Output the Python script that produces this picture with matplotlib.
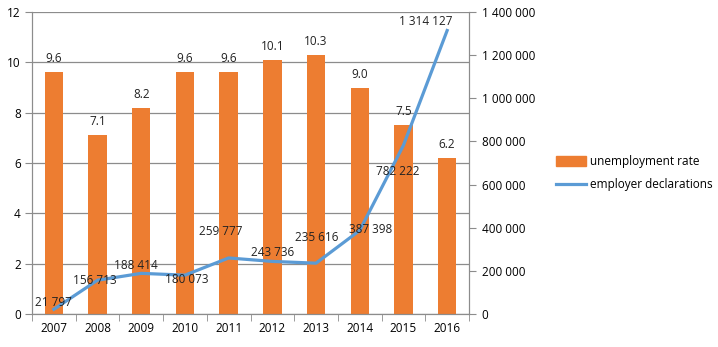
import matplotlib.pyplot as plt
from matplotlib.ticker import FuncFormatter
from matplotlib.patches import Patch
from matplotlib.lines import Line2D

years = ["2007", "2008", "2009", "2010", "2011", "2012", "2013", "2014", "2015", "2016"]
rate = [9.6, 7.1, 8.2, 9.6, 9.6, 10.1, 10.3, 9.0, 7.5, 6.2]
decl = [21797, 156713, 188414, 180073, 259777, 243736, 235616, 387398, 782222, 1314127]

# label offsets for the line labels (pixels)
decl_off = [(0, 7), (-3, 0), (-5, 8), (2, -4), (-8, 26), (0, 9), (1, 26), (11, 1), (-6, -26), (-21, 9)]

plt.rcParams['font.family'] = ['Open Sans', 'DejaVu Sans']
plt.rcParams['font.size'] = 8.5
orange = "#ED7D31"
blue = "#5B9BD5"
grid = "#8C8C8C"

fig = plt.figure(figsize=(7.18, 3.47), dpi=100)
ax = fig.add_axes([32/718, 1-314/347, (469-32)/718, (314-12)/347])
x = list(range(len(years)))
ax.bar(x, rate, width=0.42, color=orange, zorder=2)
for i, v in enumerate(rate):
    ax.annotate(f"{v:.1f}", (i, v), xytext=(0, 7), textcoords="offset pixels",
                ha="center", va="bottom", color="#222222")
ax.set_xlim(-0.5, 9.5)
ax.set_ylim(0, 12)
ax.set_yticks(range(0, 13, 2))
ax.yaxis.grid(True, color=grid, linewidth=0.9, zorder=0)
ax.set_axisbelow(True)
ax.set_xticks(x)
ax.set_xticklabels(years)
ax.set_xticks([i - 0.5 for i in range(11)], minor=True)
ax.tick_params(axis="x", which="major", length=0, pad=6)
ax.tick_params(axis="x", which="minor", length=5, color=grid)
ax.tick_params(axis="y", length=5, color=grid, pad=3)
for s in ["left", "right", "bottom"]:
    ax.spines[s].set_color(grid)
ax.spines["top"].set_visible(False)

ax2 = ax.twinx()
ax2.plot(x, decl, color=blue, linewidth=2.3, zorder=3)
for i, v in enumerate(decl):
    ax2.annotate(f"{v:,}".replace(",", " "), (i, v), xytext=decl_off[i],
                 textcoords="offset pixels", ha="center", va="center", color="#222222")
ax2.set_ylim(0, 1400000)
ax2.set_yticks(range(0, 1400001, 200000))
ax2.yaxis.set_major_formatter(FuncFormatter(lambda v, p: f"{int(v):,}".replace(",", " ")))
ax2.tick_params(axis="y", length=5, color=grid, pad=4)
for s in ["left", "right", "bottom"]:
    ax2.spines[s].set_color(grid)
ax2.spines["top"].set_visible(False)

handles = [Patch(color=orange), Line2D([], [], color=blue, linewidth=2.3)]
fig.legend(handles, ["unemployment rate", "employer declarations"],
           loc="center left", bbox_to_anchor=(545/718, 1-173/347), frameon=False,
           handlelength=2.6, handleheight=0.9, handletextpad=0.3, labelspacing=0.9)

fig.savefig("out.png", dpi=100)
